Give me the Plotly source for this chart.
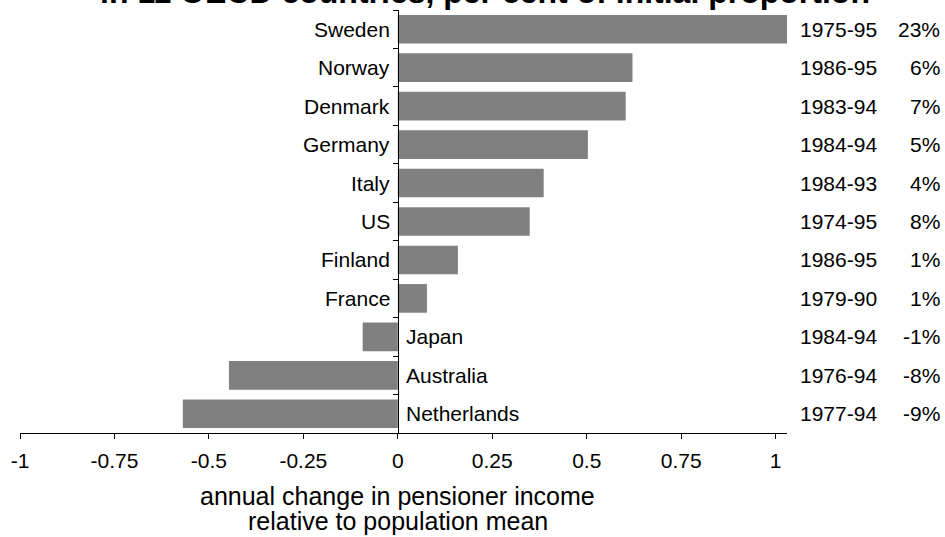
import plotly.graph_objects as go

# Annual change in pensioner income relative to the population mean, by country
countries = ["Sweden", "Norway", "Denmark", "Germany", "Italy", "US",
             "Finland", "France", "Japan", "Australia", "Netherlands"]
annual_change = [1.03, 0.621, 0.603, 0.503, 0.386, 0.349,
                 0.159, 0.077, -0.093, -0.447, -0.569]
periods = ["1975-95", "1986-95", "1983-94", "1984-94", "1984-93", "1974-95",
           "1986-95", "1979-90", "1984-94", "1976-94", "1977-94"]
pct_change = ["23%", "6%", "7%", "5%", "4%", "8%", "1%", "1%", "-1%", "-8%", "-9%"]
x_ticks = [-1, -0.75, -0.5, -0.25, 0, 0.25, 0.5, 0.75, 1]
x_tick_labels = ["-1", "-0.75", "-0.5", "-0.25", "0", "0.25", "0.5", "0.75", "1"]
x_title_lines = ["annual change in pensioner income", "relative to population mean"]

W, H = 945, 537
M_L, M_R, M_T, M_B = 20, 158, 10, 104
PW = W - M_L - M_R
PH = H - M_T - M_B
X_RANGE = [-1, 1.03]
FONT = "Liberation Sans, Arial, sans-serif"
LABEL_SIZE = 21

fig = go.Figure(go.Bar(
    x=annual_change,
    y=countries,
    orientation="h",
    marker=dict(color="#808080", line=dict(width=0)),
    hoverinfo="skip",
))

annotations = []
for name, val, per, pct in zip(countries, annual_change, periods, pct_change):
    # country name sits on the opposite side of the bar
    annotations.append(dict(
        x=0, y=name, xref="x", yref="y", text=name, showarrow=False,
        xanchor="right" if val >= 0 else "left",
        xshift=-6 if val >= 0 else 6,
        font=dict(size=LABEL_SIZE, color="black", family=FONT),
    ))
    annotations.append(dict(
        x=(798 - M_L) / PW, y=name, xref="paper", yref="y", text=per,
        showarrow=False, xanchor="left",
        font=dict(size=LABEL_SIZE, color="black", family=FONT),
    ))
    annotations.append(dict(
        x=(942 - M_L) / PW, y=name, xref="paper", yref="y", text=pct,
        showarrow=False, xanchor="right",
        font=dict(size=LABEL_SIZE, color="black", family=FONT),
    ))

# two-line axis caption centred under zero
for line, y_px in zip(x_title_lines, [496, 521]):
    annotations.append(dict(
        x=0, y=-(y_px - (M_T + PH)) / PH, xref="x", yref="paper",
        text=line, showarrow=False, xanchor="center", yanchor="middle",
        font=dict(size=25, color="black", family=FONT),
    ))

fig.update_layout(
    width=W, height=H,
    margin=dict(l=M_L, r=M_R, t=M_T, b=M_B, pad=0),
    paper_bgcolor="white", plot_bgcolor="white",
    showlegend=False,
    bargap=0.255,
    font=dict(family=FONT, color="black"),
    title=dict(
        text="<b>in 11 OECD countries, per cent of initial proportion</b>",
        x=485 / W, xanchor="center", xref="container",
        y=1 - 3 / H, yanchor="bottom", yref="container",
        font=dict(size=32, color="black", family=FONT),
    ),
    xaxis=dict(
        range=X_RANGE, tickvals=x_ticks, ticktext=x_tick_labels,
        ticks="outside", ticklen=5, tickwidth=1, tickcolor="black",
        ticklabelstandoff=4,
        showline=True, linecolor="black", linewidth=1,
        showgrid=False, zeroline=False,
        tickfont=dict(size=LABEL_SIZE, color="black", family=FONT),
    ),
    yaxis=dict(
        type="category", range=[len(countries) - 0.5, -0.5],
        anchor="free", position=(0 - X_RANGE[0]) / (X_RANGE[1] - X_RANGE[0]),
        showline=True, linecolor="black", linewidth=1,
        ticks="outside", tickson="boundaries", ticklen=5, tickwidth=1,
        tickcolor="black", showticklabels=False,
        showgrid=False, zeroline=False,
    ),
    annotations=annotations,
)

fig.write_html("out.html")
